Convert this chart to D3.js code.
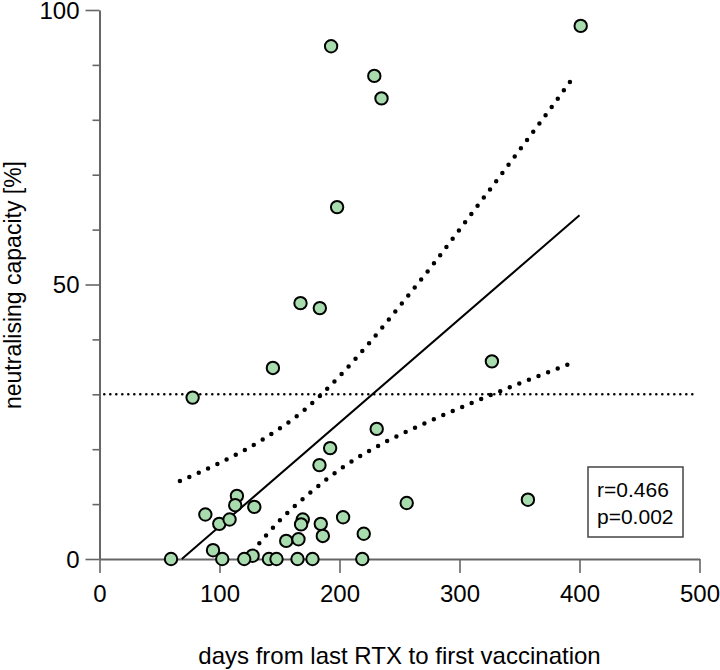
<!DOCTYPE html>
<html>
<head>
<meta charset="utf-8">
<script src="https://cdn.jsdelivr.net/npm/d3@7"></script>
<style>
  body { margin: 0; background: #fff; }
  text { font-family: "Liberation Sans", Arial, sans-serif; fill: #000; }
</style>
</head>
<body>
<svg id="chart"></svg>
<script>
// days from last RTX to first vaccination
const days = [401, 193, 229, 235, 198, 167.5, 183.6, 144.5, 77.6, 327,
  231, 192.2, 183.3, 256, 357, 114.5, 113.1, 129, 88.2, 99.8,
  108.4, 169.4, 168, 184.4, 186.1, 203, 220.2, 155.6, 165.8, 94.6,
  127.6, 59.6, 102.3, 120.6, 141.2, 147.5, 165, 177.5, 219];
// neutralising capacity [%]
const capacity = [97.1, 93.4, 88.0, 83.9, 64.1, 46.6, 45.7, 34.8, 29.4, 36.0,
  23.7, 20.2, 17.1, 10.2, 10.8, 11.5, 9.8, 9.5, 8.1, 6.4,
  7.2, 7.2, 6.3, 6.4, 4.2, 7.6, 4.6, 3.3, 3.6, 1.6,
  0.6, 0, 0, 0, 0, 0, 0, 0, 0];

// regression line and 95% band
const fitX = [68.6, 400];
const fitY = [0, 62.6];
const upperX = [67, 100, 137, 170, 200, 225, 251, 276, 300, 325, 350, 375, 396];
const upperY = [14.2, 17.5, 21.9, 27, 33.3, 39.4, 46.3, 53.1, 60, 67.2, 74.5, 81.8, 88.1];
const lowerX = [122, 131, 151, 173, 204, 239, 275, 311, 349, 395];
const lowerY = [0, 2.3, 7.2, 11.6, 16.9, 21.4, 25.1, 28.5, 31.9, 35.8];

const cutoff = 30;
const cutoffRange = [4, 496];

const xTicks = [0, 100, 200, 300, 400, 500];
const yMajor = [0, 50, 100];
const yMinor = [10, 20, 30, 40, 60, 70, 80, 90];

const stats = ['r=0.466', 'p=0.002'];

const width = 720, height = 670;

const svg = d3.select('#chart')
  .attr('width', width)
  .attr('height', height);

const x = d3.scaleLinear().domain([0, 500]).range([99.5, 699.5]);
const y = d3.scaleLinear().domain([0, 100]).range([559, 10]);

const axisColor = '#666';

// y axis, minor ticks first
svg.append('g')
  .attr('transform', 'translate(99.5,0)')
  .call(d3.axisLeft(y).tickValues(yMinor).tickSize(7).tickSizeOuter(0).tickFormat(''))
  .call(g => g.select('.domain').remove())
  .call(g => g.selectAll('line').attr('stroke', axisColor).attr('stroke-width', 1.6));

const yAxis = svg.append('g')
  .attr('transform', 'translate(99.5,0)')
  .call(d3.axisLeft(y).tickValues(yMajor).tickSize(14).tickSizeOuter(0).tickPadding(6));
yAxis.select('.domain').attr('stroke', axisColor).attr('stroke-width', 2);
yAxis.selectAll('line').attr('stroke', axisColor).attr('stroke-width', 1.6);
yAxis.selectAll('text')
  .attr('font-size', 24)
  .attr('font-family', '"Liberation Sans", Arial, sans-serif')
  .attr('fill', '#000')
  .attr('dy', '0.35em');

// x axis along y = 0
const xAxis = svg.append('g')
  .attr('transform', `translate(0,${y(0)})`)
  .call(d3.axisBottom(x).tickValues(xTicks).tickSize(14).tickSizeOuter(0).tickPadding(12));
xAxis.select('.domain').attr('stroke', axisColor).attr('stroke-width', 2);
xAxis.selectAll('line').attr('stroke', axisColor).attr('stroke-width', 1.6);
xAxis.selectAll('text')
  .attr('font-size', 24)
  .attr('font-family', '"Liberation Sans", Arial, sans-serif')
  .attr('fill', '#000');

// axis titles
svg.append('text')
  .attr('x', 399.5)
  .attr('y', 664)
  .attr('text-anchor', 'middle')
  .attr('font-size', 24)
  .text('days from last RTX to first vaccination');

svg.append('text')
  .attr('transform', 'translate(20.5,285) rotate(-90)')
  .attr('text-anchor', 'middle')
  .attr('font-size', 23)
  .text('neutralising capacity [%]');

// cutoff line
svg.append('line')
  .attr('x1', x(cutoffRange[0]))
  .attr('x2', x(cutoffRange[1]))
  .attr('y1', y(cutoff))
  .attr('y2', y(cutoff))
  .attr('stroke', '#000')
  .attr('stroke-width', 2.6)
  .attr('stroke-linecap', 'round')
  .attr('stroke-dasharray', '0 6');

// confidence band
const bandLine = d3.line()
  .x(d => x(d[0]))
  .y(d => y(d[1]))
  .curve(d3.curveMonotoneX);

[[upperX, upperY], [lowerX, lowerY]].forEach(([bx, by]) => {
  svg.append('path')
    .datum(bx.map((v, i) => [v, by[i]]))
    .attr('d', bandLine)
    .attr('fill', 'none')
    .attr('stroke', '#000')
    .attr('stroke-width', 4.5)
    .attr('stroke-linecap', 'round')
    .attr('stroke-dasharray', '0 10.3');
});

// regression line
svg.append('path')
  .datum(fitX.map((v, i) => [v, fitY[i]]))
  .attr('d', d3.line().x(d => x(d[0])).y(d => y(d[1])))
  .attr('stroke', '#000')
  .attr('stroke-width', 2);

// points
svg.append('g')
  .selectAll('circle')
  .data(days.map((d, i) => ({ d, c: capacity[i] })))
  .enter().append('circle')
  .attr('cx', p => x(p.d))
  .attr('cy', p => y(p.c))
  .attr('r', 6.2)
  .attr('fill', '#a8dcae')
  .attr('stroke', '#000')
  .attr('stroke-width', 2);

// stats box
const box = svg.append('g').attr('transform', 'translate(588,467)');
box.append('rect')
  .attr('width', 95)
  .attr('height', 70)
  .attr('fill', '#fff')
  .attr('stroke', '#444')
  .attr('stroke-width', 1.5);
box.selectAll('text')
  .data(stats)
  .enter().append('text')
  .attr('x', 9)
  .attr('y', (d, i) => 30 + i * 27)
  .attr('font-size', 21)
  .text(d => d);
</script>
</body>
</html>
